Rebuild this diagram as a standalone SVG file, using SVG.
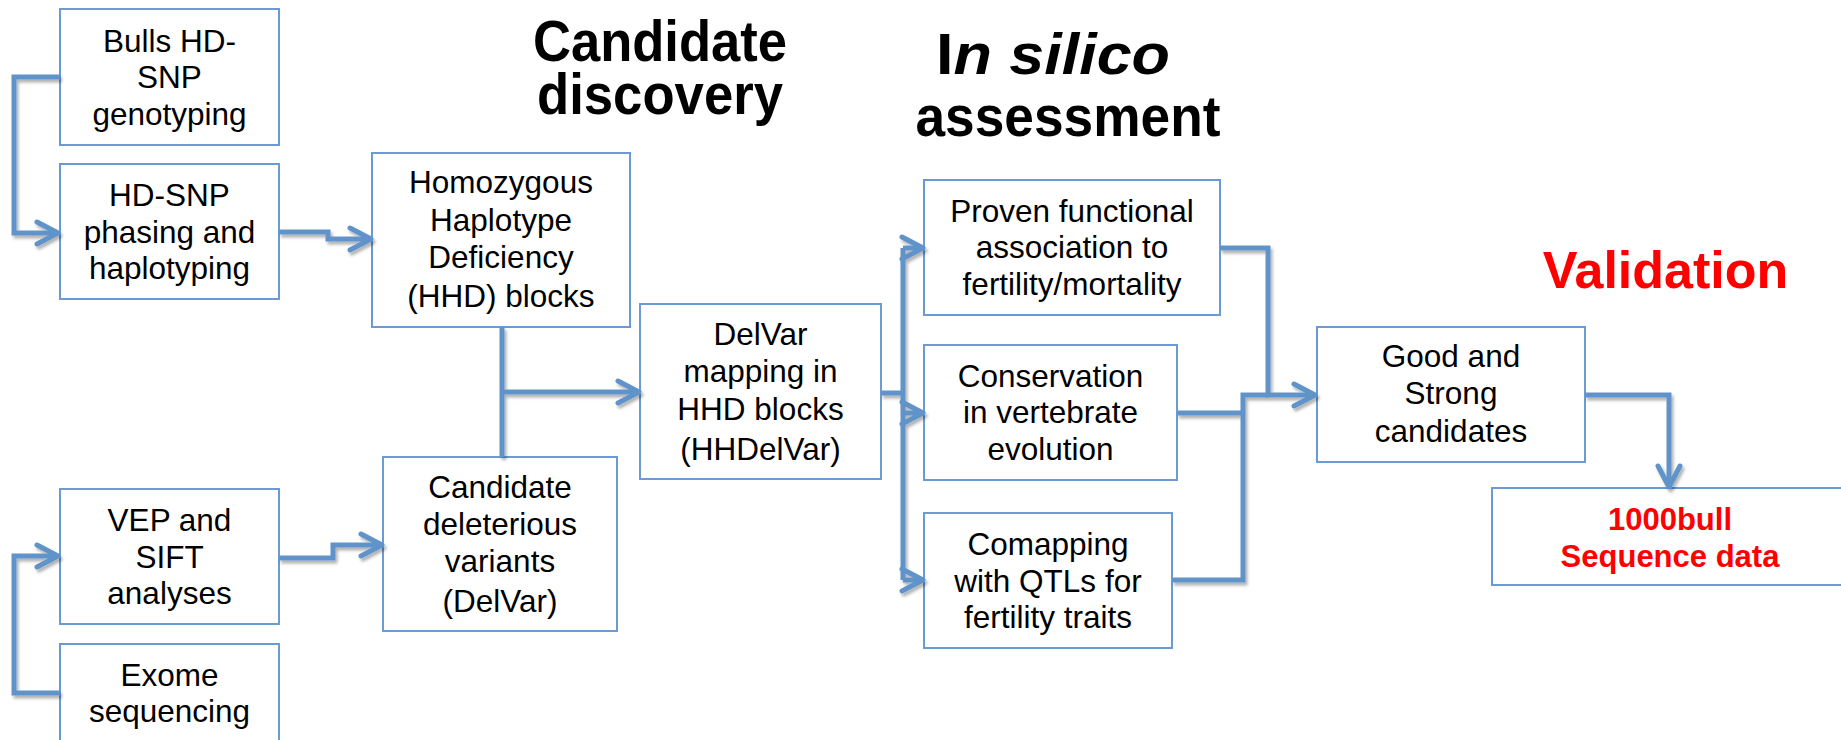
<svg xmlns="http://www.w3.org/2000/svg" width="1841" height="740" viewBox="0 0 1841 740">
  <defs>
    <style>
      .box{fill:#fff;stroke:#6b9bd2;stroke-width:2}
      .lbl{font-family:"Liberation Sans",Arial,sans-serif;font-size:31.5px;fill:#000;text-anchor:middle}
      .hd{font-family:"Liberation Sans",Arial,sans-serif;font-weight:bold;font-size:58px;fill:#000;text-anchor:middle}
      .red{font-family:"Liberation Sans",Arial,sans-serif;font-weight:bold;fill:#ff0000;text-anchor:middle}
      .wire{fill:none;stroke:#5f93c9;stroke-width:5;stroke-linejoin:miter}
      .tip{marker-end:url(#arr)}
    </style>
    <marker id="arr" markerUnits="userSpaceOnUse" orient="auto" markerWidth="40" markerHeight="40" viewBox="-30 -20 40 40" refX="0" refY="0" overflow="visible">
      <path d="M-18,-11 L3,0 L-18,11" fill="none" stroke="#5f93c9" stroke-width="5" stroke-linecap="round" stroke-linejoin="round"/>
    </marker>
    <filter id="sh" filterUnits="userSpaceOnUse" x="0" y="0" width="1841" height="740">
      <feDropShadow dx="2" dy="3" stdDeviation="1.5" flood-color="#000" flood-opacity="0.3"/>
    </filter>
  </defs>

  <!-- stage titles -->
  <g id="titles">
    <text class="hd" x="660" y="61" textLength="254" lengthAdjust="spacingAndGlyphs">Candidate</text>
    <text class="hd" x="660" y="114" textLength="246" lengthAdjust="spacingAndGlyphs">discovery</text>
    <text class="hd" x="1053" y="74" textLength="234" lengthAdjust="spacingAndGlyphs">I<tspan font-style="italic">n silico</tspan></text>
    <text class="hd" x="1068" y="136" textLength="305" lengthAdjust="spacingAndGlyphs">assessment</text>
    <text class="red" x="1665.5" y="288" font-size="52">Validation</text>
  </g>

  <!-- process boxes -->
  <g id="bulls">
    <rect class="box" x="60" y="9" width="219" height="136"/>
    <text class="lbl" x="169.5" y="52">Bulls HD-</text>
    <text class="lbl" x="169.5" y="88">SNP</text>
    <text class="lbl" x="169.5" y="125">genotyping</text>
  </g>
  <g id="phasing">
    <rect class="box" x="60" y="164" width="219" height="135"/>
    <text class="lbl" x="169.5" y="206">HD-SNP</text>
    <text class="lbl" x="169.5" y="243">phasing and</text>
    <text class="lbl" x="169.5" y="279">haplotyping</text>
  </g>
  <g id="vep">
    <rect class="box" x="60" y="489" width="219" height="135"/>
    <text class="lbl" x="169.5" y="531">VEP and</text>
    <text class="lbl" x="169.5" y="568">SIFT</text>
    <text class="lbl" x="169.5" y="604">analyses</text>
  </g>
  <g id="exome">
    <rect class="box" x="60" y="644" width="219" height="110"/>
    <text class="lbl" x="169.5" y="686">Exome</text>
    <text class="lbl" x="169.5" y="722">sequencing</text>
  </g>
  <g id="hhd">
    <rect class="box" x="372" y="153" width="258" height="174"/>
    <text class="lbl" x="501" y="193">Homozygous</text>
    <text class="lbl" x="501" y="231">Haplotype</text>
    <text class="lbl" x="501" y="268">Deficiency</text>
    <text class="lbl" x="501" y="307">(HHD) blocks</text>
  </g>
  <g id="delvar-candidates">
    <rect class="box" x="383" y="457" width="234" height="174"/>
    <text class="lbl" x="500" y="498">Candidate</text>
    <text class="lbl" x="500" y="535">deleterious</text>
    <text class="lbl" x="500" y="572">variants</text>
    <text class="lbl" x="500" y="612">(DelVar)</text>
  </g>
  <g id="hhdelvar">
    <rect class="box" x="640" y="304" width="241" height="175"/>
    <text class="lbl" x="760.5" y="345">DelVar</text>
    <text class="lbl" x="760.5" y="382">mapping in</text>
    <text class="lbl" x="760.5" y="420">HHD blocks</text>
    <text class="lbl" x="760.5" y="460">(HHDelVar)</text>
  </g>
  <g id="proven">
    <rect class="box" x="924" y="180" width="296" height="135"/>
    <text class="lbl" x="1072" y="222">Proven functional</text>
    <text class="lbl" x="1072" y="258">association to</text>
    <text class="lbl" x="1072" y="295">fertility/mortality</text>
  </g>
  <g id="conservation">
    <rect class="box" x="924" y="345" width="253" height="135"/>
    <text class="lbl" x="1050.5" y="387">Conservation</text>
    <text class="lbl" x="1050.5" y="423">in vertebrate</text>
    <text class="lbl" x="1050.5" y="460">evolution</text>
  </g>
  <g id="comapping">
    <rect class="box" x="924" y="513" width="248" height="135"/>
    <text class="lbl" x="1048" y="555">Comapping</text>
    <text class="lbl" x="1048" y="592">with QTLs for</text>
    <text class="lbl" x="1048" y="628">fertility traits</text>
  </g>
  <g id="good">
    <rect class="box" x="1317" y="327" width="268" height="135"/>
    <text class="lbl" x="1451" y="367">Good and</text>
    <text class="lbl" x="1451" y="404">Strong</text>
    <text class="lbl" x="1451" y="442">candidates</text>
  </g>
  <g id="sequence">
    <rect class="box" x="1492" y="488" width="356" height="97"/>
    <text class="red" x="1670" y="530" font-size="31">1000bull</text>
    <text class="red" x="1670" y="567" font-size="31">Sequence data</text>
  </g>

  <!-- connectors -->
  <g id="connectors" class="wire" filter="url(#sh)">
    <path class="tip" d="M60,77 H14 V233 H55"/>
    <path class="tip" d="M279,232 H328 V239 H368"/>
    <path class="tip" d="M279,558 H333 V545 H379"/>
    <path class="tip" d="M60,693 H14 V556 H55"/>
    <path d="M502,327 V457"/>
    <path class="tip" d="M502,392 H636"/>
    <path d="M881,393 H903"/>
    <path d="M903,248 V580"/>
    <path class="tip" d="M903,248 H920"/>
    <path class="tip" d="M903,413 H920"/>
    <path class="tip" d="M903,580 H920"/>
    <path class="tip" d="M1220,248 H1268 V395 H1312"/>
    <path d="M1177,413 H1243"/>
    <path d="M1172,580 H1243 V395 H1268"/>
    <path class="tip" d="M1585,395 H1669 V484"/>
  </g>
</svg>
